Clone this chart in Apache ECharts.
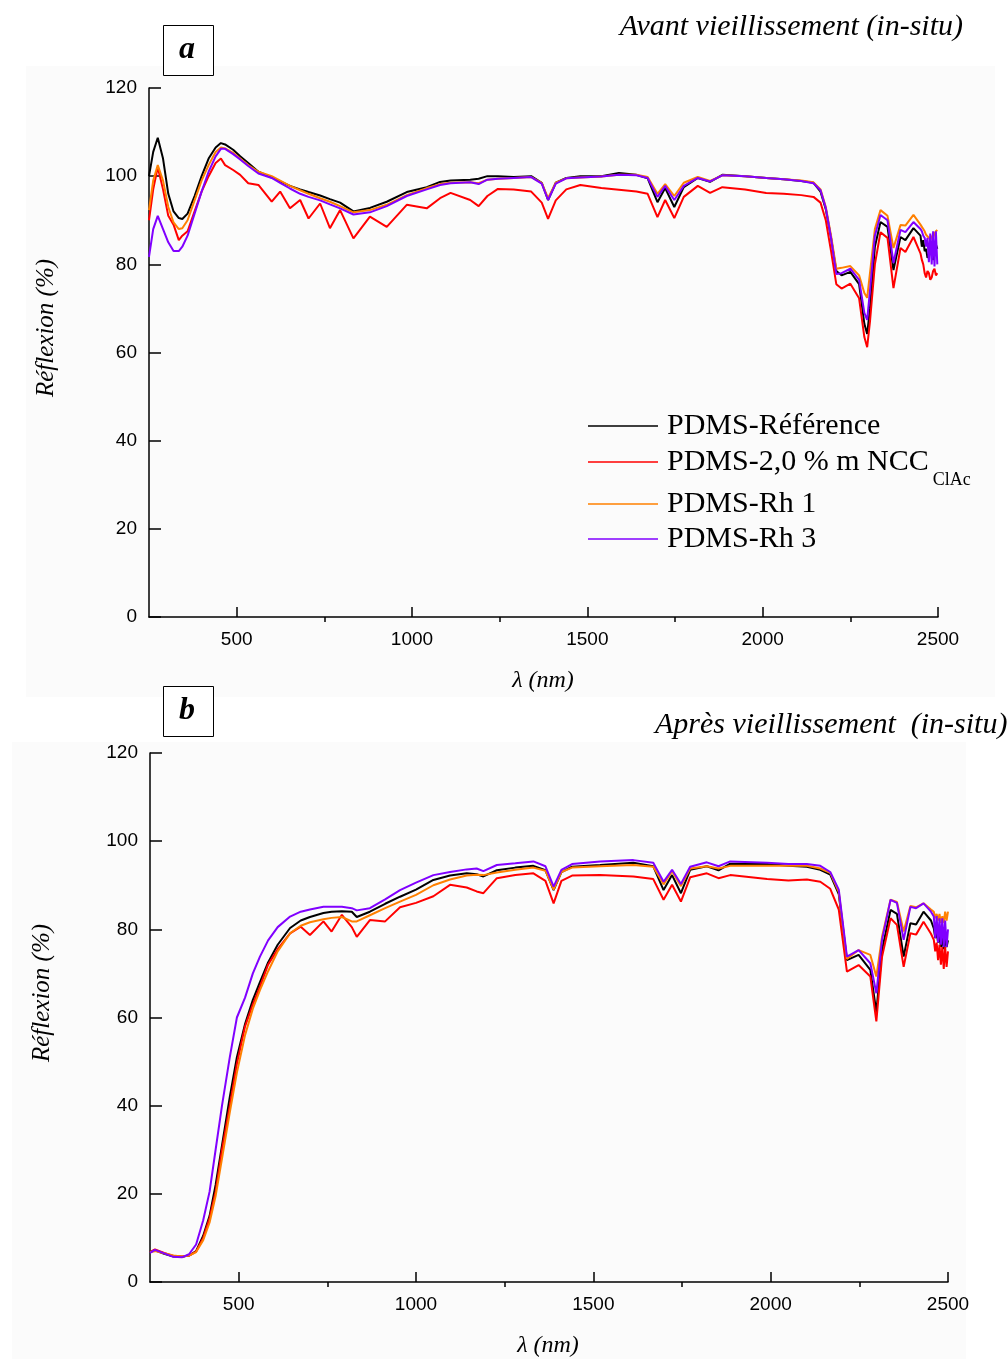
<!DOCTYPE html>
<html><head><meta charset="utf-8">
<script src="https://cdn.jsdelivr.net/npm/echarts/dist/echarts.min.js"></script>
<style>html,body{margin:0;padding:0;background:#fff}#c{width:1008px;height:1359px}</style>
</head><body><div id="c"></div>
<script>
// ---------- DATA ----------
const seriesNames = ['PDMS-Référence', 'PDMS-2,0 % m NCC', 'PDMS-Rh 1', 'PDMS-Rh 3'];
const xMajorTicks = [500, 1000, 1500, 2000, 2500];
const xMinorTicks = [750, 1250, 1750, 2250];

// Panel a : avant vieillissement
const wlA = [
  250, 262, 275, 290, 305, 320, 335, 345, 360, 380,
  400, 420, 440, 455, 467, 490, 510, 533, 562, 600,
  624, 652, 681, 705, 738, 766, 795, 833, 880, 928,
  985, 1042, 1080, 1110, 1166, 1190, 1215, 1245, 1290, 1340,
  1370, 1388, 1410, 1440, 1480, 1540, 1590, 1640, 1672, 1700,
  1722, 1748, 1775, 1815, 1850, 1885, 1950, 2010, 2060, 2110,
  2145, 2165, 2180, 2195, 2210, 2225, 2250, 2275, 2290, 2298,
  2306, 2320, 2336, 2356, 2373, 2393, 2407, 2430, 2450, 2454,
  2458, 2462, 2466, 2470, 2474, 2478, 2482, 2486, 2490, 2494,
  2498];
const refA = [
  100, 105.5, 108.7, 104, 96, 92, 90.5, 90.3, 91.5, 95.5,
  100, 104, 106.5, 107.5, 107.2, 106, 104.5, 103, 101, 99.7,
  98.8, 97.8, 97, 96.4, 95.6, 94.8, 94, 92, 92.8, 94.2,
  96.4, 97.5, 98.7, 99, 99.2, 99.4, 100, 100, 99.8, 100,
  98.5, 94.6, 98.5, 99.6, 100, 100, 100.7, 100.3, 99.5, 94.1,
  97.3, 93, 97.5, 99.6, 98.7, 100.3, 100, 99.6, 99.3, 98.9,
  98.5, 96.5, 92.5, 86, 78.5, 77.5, 78.3, 75.5, 66.5, 64.2,
  70, 84, 89.6, 88.5, 78.7, 86.2, 85.5, 88.2, 86.5, 84,
  85.5, 83, 83.5, 81.5, 82, 84, 83, 81, 82.5, 84.5,
  83.5];
const nccA = [
  90, 97, 102, 97, 91, 89, 85.5, 86.5, 87.5, 92,
  96.5, 100, 103, 104, 102.5, 101.4, 100.3, 98.4, 98, 94.2,
  96.5, 92.7, 94.6, 90.4, 93.8, 88.2, 92.3, 85.9, 90.8, 88.5,
  93.5, 92.7, 95, 96.2, 94.6, 93.2, 95.5, 97.1, 97, 96.5,
  94, 90.3, 94.5, 97, 98, 97.3, 96.9, 96.5, 96, 90.7,
  94.6, 90.5, 95.3, 97.8, 96.2, 97.5, 97, 96.2, 96, 95.7,
  95.3, 94, 90, 83, 75.5, 74.5, 75.6, 72.3, 63.5, 61.2,
  67, 80, 87.3, 86, 74.6, 83.7, 82.8, 86.2, 82.5, 81,
  80, 78, 77, 78.5, 78, 76.5, 77, 78.5, 79, 77.5,
  78];
const rh1A = [
  92.3, 99, 102.5, 99, 93, 89.5, 88, 88.2, 90, 94.5,
  99, 102.5, 105.5, 106.5, 106.3, 105.3, 104, 102.5, 101, 100,
  99, 97.8, 96.8, 96, 95, 94.2, 93.2, 91.8, 92.3, 93.5,
  95.7, 97.3, 98.2, 98.5, 98.6, 98.4, 99.2, 99.4, 99.6, 99.8,
  98.5, 95, 98.5, 99.5, 99.7, 99.9, 100.3, 100.3, 99.8, 96,
  98.2, 95.5, 98.5, 99.8, 98.9, 100.2, 100, 99.6, 99.3, 99,
  98.6, 97, 93, 86.5, 79, 79.2, 79.6, 77.5, 73.5, 72.4,
  78, 88, 92.3, 91, 83.7, 88.9, 88.8, 91.2, 89, 88.5,
  88, 87.5, 86.7, 86.5, 86, 85.5, 86.5, 86, 87, 87.5,
  87.8];
const rh3A = [
  81.7, 88, 91, 88, 85, 83, 83, 84, 86.5, 91.5,
  96.5, 101, 104.5, 106.2, 106.2, 105, 103.8, 102.3, 100.6, 99.6,
  98.5, 97.2, 96, 95.3, 94.5, 93.6, 92.7, 91.3, 91.8, 93.2,
  95.5, 97, 98, 98.4, 98.6, 98.2, 99.2, 99.4, 99.6, 99.8,
  98.3, 94.6, 98.3, 99.5, 99.7, 99.9, 100.3, 100.2, 99.6, 95.3,
  97.8, 94.6, 97.8, 99.6, 98.8, 100.2, 100, 99.6, 99.3, 98.9,
  98.4, 96.8, 92.8, 86, 77.8, 78, 79, 76.5, 69, 67.4,
  74, 86.5, 91.2, 90, 80.3, 87.8, 87.3, 89.6, 88, 87.5,
  86.5, 86, 84, 86, 80.5, 87, 80, 87.5, 79.5, 87.5,
  80];

// Panel b : après vieillissement
const wlB = [
  250, 264, 290, 316, 340, 360, 380, 400, 418, 435,
  453, 475, 495, 518, 540, 560, 583, 610, 645, 675,
  701, 739, 762, 791, 819, 833, 870, 913, 955, 1000,
  1049, 1096, 1143, 1171, 1190, 1228, 1280, 1331, 1365, 1388,
  1410, 1440, 1519, 1613, 1669, 1698, 1722, 1747, 1773, 1820,
  1853, 1886, 1990, 2050, 2102, 2140, 2168, 2192, 2215, 2248,
  2281, 2298, 2314, 2338, 2356, 2375, 2394, 2410, 2431, 2452,
  2460, 2464, 2468, 2472, 2476, 2480, 2484, 2488, 2492, 2496,
  2500];
const refB = [
  6.8, 7.2, 6.4, 5.8, 5.7, 6, 7, 10.5, 15, 22,
  31, 42, 51, 58.5, 64, 68, 72.5, 76.5, 80.3, 82,
  82.8, 83.7, 84, 84.1, 84, 82.8, 84, 85.8, 87.4, 89,
  91.2, 92.2, 92.7, 92.5, 92, 93.4, 94, 94.4, 93.4, 88.9,
  93, 94.2, 94.6, 95.1, 94.3, 88.9, 92.3, 88.2, 93.5, 94.3,
  93.4, 94.9, 94.8, 94.4, 94.2, 93.5, 92.4, 88, 73, 74.2,
  70.8, 61.3, 75.3, 84.4, 83.5, 73.8, 81.4, 81.1, 84, 82,
  80.2, 78, 79.5, 77, 78.5, 76, 78, 75.5, 78, 76,
  77.5];
const nccB = [
  6.8, 7.4, 6.6, 5.9, 5.8, 6, 6.9, 10, 14.5, 20.5,
  30, 40, 49.5, 58, 63, 67, 72, 75.5, 79.1, 80.6,
  78.7, 81.8, 79.5, 83.3, 80.5, 78.3, 82.1, 81.8, 85, 86,
  87.5, 90.1, 89.5, 88.6, 88.2, 91.6, 92.3, 92.7, 91, 85.9,
  91, 92.2, 92.3, 92, 91.4, 86.7, 90.1, 86.3, 91.8, 92.7,
  91.6, 92.3, 91.4, 91.1, 91.3, 90.8, 89.2, 84.5, 70.4, 71.9,
  69.3, 59.1, 73.8, 82.5, 81, 71.5, 79.1, 78.8, 81.7, 79,
  77.6, 75, 77, 73, 76.5, 72, 76, 71, 76, 71.5,
  75];
const rh1B = [
  6.8, 7, 6.5, 6, 5.8, 6, 6.8, 9.5, 13.5, 19.5,
  28, 38.5, 47.5, 56, 62, 66.2, 70.5, 75, 79.1, 80.8,
  81.6, 82.3, 82.6, 82.8, 81.8, 81.8, 83.2, 84.8, 86.3, 87.8,
  90, 91.3, 92.2, 92.4, 92.3, 92.9, 93.5, 94, 93.3, 89,
  93, 94, 94.3, 94.6, 94.2, 90.2, 93.2, 89.8, 93.8, 94.3,
  93.8, 94.4, 94.4, 94.4, 94.4, 93.8, 92.8, 88.5, 73.3, 75.3,
  74.2, 69.3, 78.3, 86.7, 86.2, 79.5, 85.3, 85, 85.9, 84.5,
  84, 82.5, 83.5, 82, 83.5, 81.5, 83, 81.5, 84, 82,
  84];
const rh3B = [
  6.6, 7.3, 6.5, 5.7, 5.6, 6.3, 8.5, 14, 20.5, 30,
  40, 51, 60, 64.5, 70, 73.8, 77.5, 80.5, 82.9, 84,
  84.5, 85.1, 85.1, 85.1, 84.8, 84.3, 84.8, 86.8, 88.9, 90.6,
  92.3, 93, 93.6, 93.8, 93.2, 94.6, 95, 95.4, 94.3, 89.7,
  93.5, 94.8, 95.4, 95.7, 95.1, 90.8, 93.5, 90.3, 94.2, 95.2,
  94.3, 95.4, 95.1, 94.8, 94.8, 94.4, 93, 89, 73.8, 75.3,
  72.3, 65.5, 77.6, 86.7, 86, 77.6, 85.1, 84.8, 85.9, 84,
  82.9, 78, 83, 77, 82.5, 76.5, 82.5, 76, 82, 76,
  80];

// ---------- CHART ----------
const colors = ['#000000', '#ff0000', '#ff8000', '#8000ff'];
const SERIF = '"Liberation Serif", "Times New Roman", serif';
const SANS = '"Liberation Sans", Arial, sans-serif';

function zip(xs, ys) {
  if (xs.length !== ys.length) throw new Error('length mismatch ' + xs.length + ' vs ' + ys.length);
  return xs.map((x, i) => [x, ys[i]]);
}

const grids = [
  { left: 149, top: 88, width: 789, height: 529, outerBoundsMode: 'none' },
  { left: 150, top: 753, width: 798, height: 529, outerBoundsMode: 'none' }
];

const plainNum = v => String(v);

function mainX(g) {
  return {
    type: 'value', gridIndex: g, min: 250, max: 2500,
    axisLine: { show: true, onZero: false, lineStyle: { color: '#000', width: 1.5 } },
    axisTick: { show: true, inside: true, length: 10, customValues: xMajorTicks, lineStyle: { color: '#000', width: 1.5 } },
    axisLabel: { show: true, customValues: xMajorTicks, formatter: plainNum, color: '#000', fontFamily: SANS, fontSize: 19, margin: 13 },
    splitLine: { show: false }
  };
}
function minorX(g) {
  return {
    type: 'value', gridIndex: g, min: 250, max: 2500,
    axisLine: { show: false },
    axisTick: { show: true, inside: true, length: 5, customValues: xMinorTicks, lineStyle: { color: '#000', width: 1.5 } },
    axisLabel: { show: false },
    splitLine: { show: false }
  };
}
function yAx(g) {
  return {
    type: 'value', gridIndex: g, min: 0, max: 120, interval: 20,
    axisLine: { show: true, onZero: false, lineStyle: { color: '#000', width: 1.5 } },
    axisTick: { show: true, inside: true, length: 12, lineStyle: { color: '#000', width: 1.5 } },
    axisLabel: { color: '#000', fontFamily: SANS, fontSize: 19, margin: 12, formatter: plainNum },
    splitLine: { show: false }
  };
}

const panelData = [
  { wl: wlA, ys: [refA, nccA, rh1A, rh3A], xi: 0, yi: 0 },
  { wl: wlB, ys: [refB, nccB, rh1B, rh3B], xi: 2, yi: 1 }
];
const series = [];
panelData.forEach(p => {
  p.ys.forEach((ys, k) => {
    series.push({
      type: 'line', name: seriesNames[k], xAxisIndex: p.xi, yAxisIndex: p.yi,
      data: zip(p.wl, ys), showSymbol: false, symbol: 'none',
      lineStyle: { color: colors[k], width: 2 }, itemStyle: { color: colors[k] },
      z: 2 + k, animation: false, clip: true
    });
  });
});

const legendTops = [409, 447, 487, 522];
const legends = seriesNames.map((n, i) => {
  const withSub = i === 1;
  const ts = { color: '#000', fontFamily: SERIF, fontSize: 30, padding: [0, 0, 0, 4] };
  if (withSub) {
    ts.rich = {
      m: { fontFamily: SERIF, fontSize: 30, lineHeight: 34, color: '#000', verticalAlign: 'middle' },
      s: { fontFamily: SERIF, fontSize: 18, color: '#000', verticalAlign: 'bottom', padding: [36, 0, 0, 4] }
    };
  } else {
    ts.lineHeight = 34;
  }
  return {
    data: [n], left: 588, top: legendTops[i], orient: 'vertical', padding: 0,
    icon: 'rect', itemWidth: 70, itemHeight: 1.5, itemGap: 0, selectedMode: false,
    formatter: withSub ? '{m|' + n + '}{s|ClAc}' : n,
    textStyle: ts
  };
});

const graphics = [
  { type: 'rect', z: -10, shape: { x: 26, y: 66, width: 969, height: 631 }, style: { fill: '#fbfbfb' }, silent: true },
  { type: 'rect', z: -10, shape: { x: 12, y: 742, width: 954, height: 617 }, style: { fill: '#fbfbfb' }, silent: true },
  { type: 'rect', z: 100, shape: { x: 163.5, y: 25.5, width: 50, height: 50 }, style: { fill: '#fff', stroke: '#000', lineWidth: 1 } },
  { type: 'text', z: 101, style: { text: 'a', x: 187, y: 50, align: 'center', verticalAlign: 'middle', font: 'italic bold 32px ' + SERIF, fill: '#000' } },
  { type: 'rect', z: 100, shape: { x: 163.5, y: 686.5, width: 50, height: 50 }, style: { fill: '#fff', stroke: '#000', lineWidth: 1 } },
  { type: 'text', z: 101, style: { text: 'b', x: 187, y: 711, align: 'center', verticalAlign: 'middle', font: 'italic bold 32px ' + SERIF, fill: '#000' } },
  { type: 'text', z: 101, style: { text: 'Avant vieillissement (in-situ)', x: 963, y: 27, align: 'right', verticalAlign: 'middle', font: 'italic 30px ' + SERIF, fill: '#000' } },
  { type: 'text', z: 101, style: { text: 'Après vieillissement  (in-situ)', x: 655, y: 725, align: 'left', verticalAlign: 'middle', font: 'italic 30px ' + SERIF, fill: '#000' } },
  { type: 'text', z: 101, rotation: Math.PI / 2, x: 46, y: 328, style: { text: 'Réflexion (%)', x: 0, y: 0, align: 'center', verticalAlign: 'middle', font: 'italic 25px ' + SERIF, fill: '#000' } },
  { type: 'text', z: 101, rotation: Math.PI / 2, x: 42, y: 993, style: { text: 'Réflexion (%)', x: 0, y: 0, align: 'center', verticalAlign: 'middle', font: 'italic 25px ' + SERIF, fill: '#000' } },
  { type: 'text', z: 101, style: { text: 'λ (nm)', x: 543, y: 681, align: 'center', verticalAlign: 'middle', font: 'italic 24px ' + SERIF, fill: '#000' } },
  { type: 'text', z: 101, style: { text: 'λ (nm)', x: 548, y: 1346, align: 'center', verticalAlign: 'middle', font: 'italic 24px ' + SERIF, fill: '#000' } }
];

const chart = echarts.init(document.getElementById('c'), null, { renderer: 'canvas' });
chart.setOption({
  backgroundColor: '#ffffff',
  animation: false,
  grid: grids,
  xAxis: [mainX(0), minorX(0), mainX(1), minorX(1)],
  yAxis: [yAx(0), yAx(1)],
  legend: legends,
  series: series,
  graphic: graphics
});
</script></body></html>
